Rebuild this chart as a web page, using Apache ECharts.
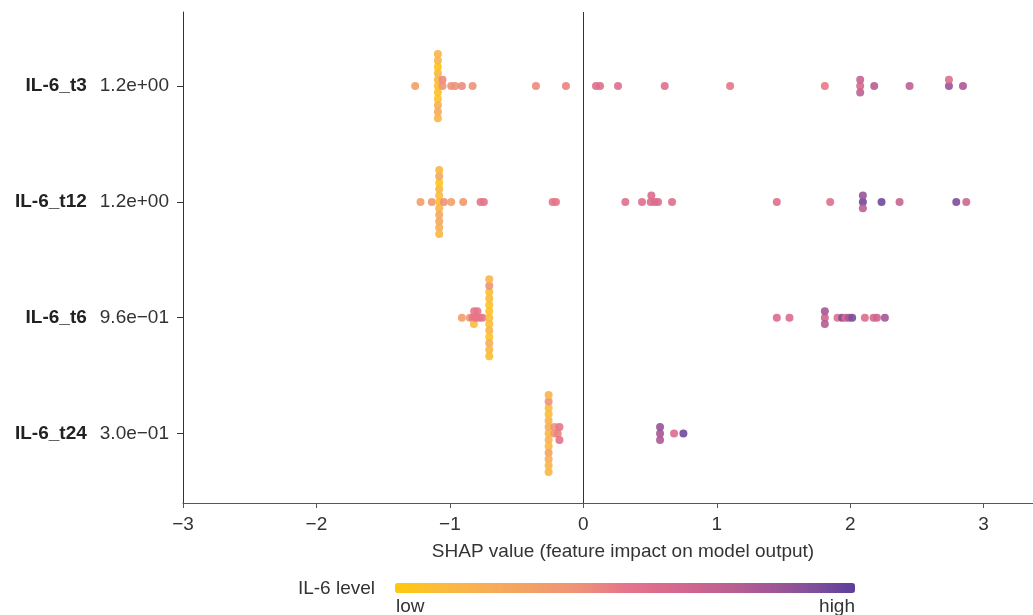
<!DOCTYPE html>
<html><head><meta charset="utf-8">
<script src="https://cdn.jsdelivr.net/npm/echarts@6/dist/echarts.min.js"></script>
<style>html,body{margin:0;padding:0;background:#fff}#chart{width:1033px;height:615px}</style>
</head><body><div id="chart"></div>
<script>
// rows from bottom to top
const features = ['IL-6_t24', 'IL-6_t6', 'IL-6_t12', 'IL-6_t3'];
const featureValues = ['3.0e\u221201', '9.6e\u221201', '1.2e+00', '1.2e+00'];
const xTicks = [-3, -2, -1, 0, 1, 2, 3];
const colorLabels = ['low', 'high'];
const colorTitle = 'IL-6 level';
const axisTitle = 'SHAP value (feature impact on model output)';

// each point: [SHAP value, IL-6 level (0 low .. 1 high)]
const shapT3 = [
  [-1.26,0.30],
  [-1.09,0.08],[-1.09,0.12],[-1.09,0.05],[-1.09,0.12],[-1.09,0.05],[-1.09,0.03],
  [-1.09,0.20],[-1.09,0.15],[-1.09,0.22],[-1.09,0.15],[-1.09,0.15],
  [-1.055,0.40],[-1.055,0.42],
  [-0.99,0.40],[-0.96,0.40],[-0.91,0.42],[-0.83,0.40],[-0.355,0.42],[-0.13,0.45],
  [0.095,0.55],[0.125,0.55],[0.26,0.55],[0.61,0.55],[1.10,0.50],[1.81,0.48],
  [2.075,0.62],[2.075,0.68],[2.075,0.72],
  [2.18,0.74],[2.445,0.72],[2.74,0.85],[2.74,0.55],[2.845,0.78]
];
const shapT12 = [
  [-1.22,0.30],[-1.135,0.35],
  [-1.08,0.08],[-1.08,0.10],[-1.08,0.15],[-1.08,0.12],[-1.08,0.25],[-1.08,0.03],
  [-1.08,0.25],[-1.08,0.25],[-1.08,0.20],[-1.08,0.12],[-1.08,0.12],
  [-1.045,0.40],[-0.99,0.30],[-0.90,0.35],[-0.77,0.50],[-0.745,0.50],
  [-0.23,0.50],[-0.205,0.50],
  [0.315,0.55],[0.44,0.55],[0.505,0.57],[0.51,0.58],[0.535,0.58],[0.56,0.58],[0.665,0.55],
  [1.45,0.55],[1.85,0.55],
  [2.095,0.95],[2.095,0.85],[2.095,0.72],
  [2.235,0.95],[2.37,0.68],[2.795,0.92],[2.87,0.65]
];
const shapT6 = [
  [-0.91,0.30],[-0.85,0.35],[-0.83,0.50],[-0.818,0.50],[-0.82,0.10],[-0.808,0.50],[-0.794,0.50],
  [-0.78,0.50],[-0.756,0.50],
  [-0.705,0.10],[-0.705,0.05],[-0.705,0.08],[-0.705,0.05],[-0.705,0.15],[-0.705,0.10],[-0.705,0.05],
  [-0.705,0.08],[-0.705,0.20],[-0.705,0.40],[-0.705,0.12],[-0.705,0.15],[-0.705,0.08],
  [1.45,0.58],[1.545,0.58],[1.81,0.65],[1.81,0.80],[1.81,0.75],[1.905,0.55],[1.94,0.92],
  [1.965,0.60],[1.99,0.80],[2.015,0.92],[2.11,0.58],[2.175,0.62],[2.20,0.65],[2.26,0.80]
];
const shapT24 = [
  [-0.26,0.12],[-0.26,0.20],[-0.26,0.18],[-0.26,0.15],[-0.26,0.12],[-0.26,0.10],[-0.26,0.28],
  [-0.26,0.10],[-0.26,0.20],[-0.26,0.40],[-0.26,0.15],[-0.26,0.15],[-0.26,0.12],
  [-0.217,0.35],[-0.217,0.38],[-0.192,0.45],[-0.179,0.50],[-0.179,0.52],
  [0.575,0.80],[0.575,0.85],[0.575,0.78],[0.68,0.58],[0.75,0.95]
];
const rows = [shapT24, shapT6, shapT12, shapT3];

const gradient = ['#ffc80a','#fbbb3c','#f7ae55','#f2a068','#ee9278','#e6748a',
                  '#d8698e','#c26290','#a65895','#85509a','#5c3f9b'];

// beeswarm: points whose SHAP values fall in the same small bin stack 0, +1, -1, +2, -2 ...
const BIN = 0.02, STEP = 0.0553;
function swarm(points, row) {
  const idx = points.map((p, i) => i).sort((a, b) => points[a][0] - points[b][0] || a - b);
  const out = [];
  let g = [], start = null;
  const flush = () => {
    g.sort((a, b) => a - b).forEach((i, k) => {
      const off = Math.ceil(k / 2) * (k % 2 ? 1 : -1);
      out.push([points[i][0], row + off * STEP, points[i][1]]);
    });
    g = [];
  };
  idx.forEach(i => {
    const x = points[i][0];
    if (start === null || x - start >= BIN - 1e-9) { flush(); start = x; }
    g.push(i);
  });
  flush();
  return out;
}
const pts = [];
rows.forEach((r, i) => pts.push(...swarm(r, i)));

const FONT = 'Liberation Sans, Arial, Helvetica, sans-serif';
const chart = echarts.init(document.getElementById('chart'), null, {renderer: 'canvas'});
chart.setOption({
  animation: false,
  backgroundColor: '#fff',
  textStyle: {fontFamily: FONT},
  grid: {left: 183, right: 0, top: 12, bottom: 112, containLabel: false},
  xAxis: {
    type: 'value', min: -3, max: 3.37,
    name: axisTitle, nameLocation: 'middle', nameGap: 39,
    nameTextStyle: {fontSize: 19, color: '#333', fontFamily: FONT, padding: [0, 0, 0, 30]},
    axisLine: {show: true, onZero: false, lineStyle: {color: '#555', width: 1}},
    axisTick: {show: true, length: 5, customValues: xTicks, lineStyle: {color: '#555'}},
    axisLabel: {customValues: xTicks, fontSize: 19, color: '#333', margin: 12, fontFamily: FONT,
      formatter: v => v < 0 ? '\u2212' + (-v) : String(v)},
    splitLine: {show: false}
  },
  yAxis: {
    type: 'value', min: -0.6, max: 3.64,
    axisLine: {show: true, onZero: false, lineStyle: {color: '#333', width: 1}},
    axisTick: {show: true, length: 6, customValues: [0, 1, 2, 3], lineStyle: {color: '#333'}},
    axisLabel: {
      customValues: [0, 1, 2, 3], margin: 14,
      formatter: v => '{n|' + features[Math.round(v)] + '}{v|' + featureValues[Math.round(v)] + '}',
      rich: {
        n: {fontSize: 19, fontWeight: 'bold', color: '#222', fontFamily: FONT},
        v: {fontSize: 19, color: '#333', fontFamily: FONT, padding: [0, 0, 0, 13]}
      }
    },
    splitLine: {show: false}
  },
  visualMap: {
    type: 'continuous', min: 0, max: 1, dimension: 2, seriesIndex: 1,
    orient: 'horizontal', left: 395, top: 583, itemWidth: 10, itemHeight: 460,
    padding: 0, calculable: false, showLabel: false, text: null, hoverLink: false,
    inRange: {color: gradient}
  },
  graphic: [
    {type: 'text', x: 375, y: 589, style: {text: colorTitle, fontSize: 19, fill: '#333', fontFamily: FONT, align: 'right', verticalAlign: 'middle'}},
    {type: 'text', x: 396, y: 607, style: {text: colorLabels[0], fontSize: 19, fill: '#333', fontFamily: FONT, align: 'left', verticalAlign: 'middle'}},
    {type: 'text', x: 855, y: 607, style: {text: colorLabels[1], fontSize: 19, fill: '#333', fontFamily: FONT, align: 'right', verticalAlign: 'middle'}}
  ],
  series: [
    {type: 'scatter', data: [], z: 1, silent: true,
     markLine: {silent: true, symbol: 'none', label: {show: false},
       lineStyle: {color: '#333', width: 1, type: 'solid'}, data: [{xAxis: 0}]}},
    {type: 'scatter', z: 3, symbolSize: 8, data: pts,
     itemStyle: {opacity: 0.9}}
  ]
});
</script></body></html>
